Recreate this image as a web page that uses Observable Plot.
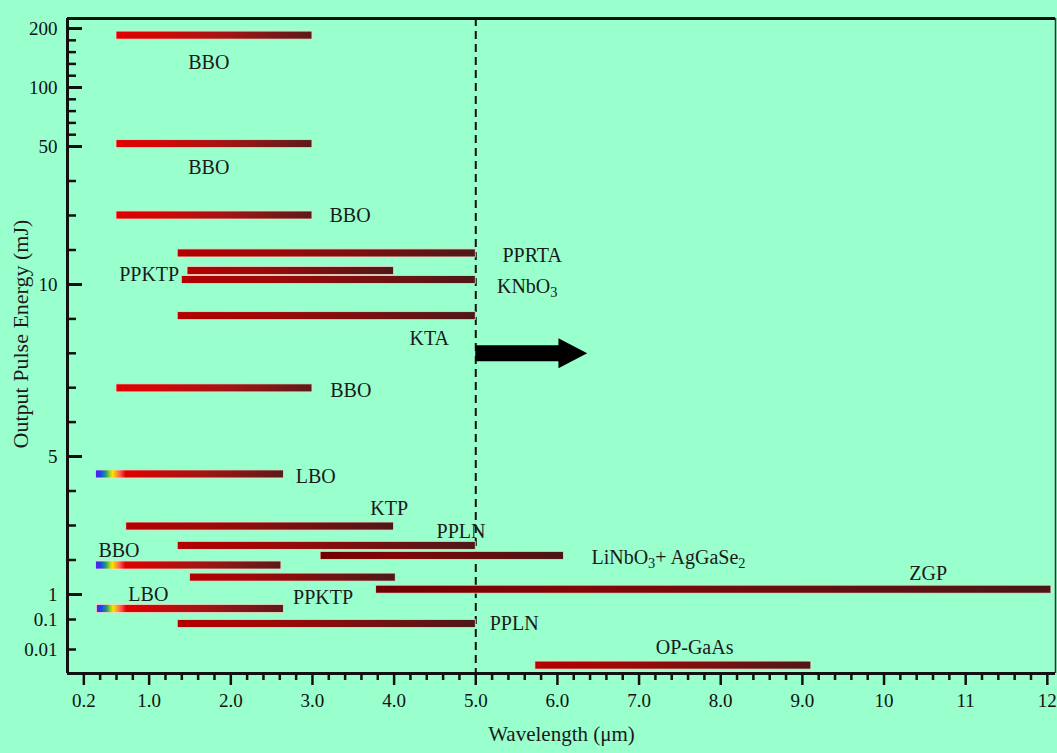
<!DOCTYPE html>
<html><head><meta charset="utf-8">
<script src="https://cdn.jsdelivr.net/npm/d3@7"></script>
<script src="https://cdn.jsdelivr.net/npm/@observablehq/plot@0.6"></script>
<style>html,body{margin:0;padding:0;background:#99ffcc;} svg{display:block}</style>
</head><body><div id="chart"></div>
<script>
// ---- data ----
const crystals = ["BBO","BBO","BBO","PPRTA","PPKTP","KNbO₃","KTA","BBO","LBO","KTP","PPLN","LiNbO₃+ AgGaSe₂","BBO","PPKTP","ZGP","LBO","PPLN","OP-GaAs"];
const startUm  = [0.6, 0.6, 0.6, 1.35, 1.47, 1.4, 1.35, 0.6, 0.35, 0.72, 1.35, 3.1, 0.35, 1.5, 3.78, 0.36, 1.35, 5.73];
const endUm    = [3.0, 3.0, 3.0, 5.0, 4.0, 5.0, 5.0, 3.0, 2.65, 4.0, 5.0, 6.08, 2.62, 4.02, 12.05, 2.65, 5.0, 9.11];
const energyMJ = [188, 52, 30, 19, 13.9, 11.3, 9.08, 6.98, 4.48, 2.97, 2.41, 2.12, 1.84, 1.49, 1.14, 0.48, 0.0865, 0.0033];
const labelUm  = [1.73, 1.73, 3.46, 5.69, 1.0, 5.63, 4.43, 3.47, 3.04, 3.94, 4.82, 7.36, 0.63, 3.13, 10.54, 0.99, 5.47, 7.68];
const labelMJ  = [142, 43.9, 30, 18.3, 12.9, 9.94, 8.43, 6.92, 4.42, 3.49, 2.83, 2.07, 2.28, 0.89, 1.61, 1.0, 0.088, 0.0145];
const arrowUm  = [5.0, 6.05, 6.15];   // shaft start, shaft end, head centre
const arrowMJ  = [8];
const xMajorTicks = [0.2, 1, 2, 3, 4, 5, 6, 7, 8, 9, 10, 11, 12];
const yMajorTicks = [200, 100, 50, 10, 5, 1];
const yLabelTicks = [200, 100, 50, 10, 5, 1, 0.1, 0.01];
const yMinorTicks = [180, 160, 140, 120, 90, 80, 70, 60, 40, 30, 20, 9, 8, 7, 6, 4, 3, 2, 0.1, 0.01];
const xMinorTicks = d3.range(2, 61).filter(i => i % 5 !== 0).map(i => i / 5);
const cutoffUm = [5.0];
const yKnots = [0, 0.01, 0.1, 1, 5, 10, 50, 100, 217];

const bars = crystals.map((name, i) => ({name, start: startUm[i], end: endUm[i], energy: energyMJ[i]}));
const labels = crystals.map((name, i) => ({name, x: labelUm[i], y: labelMJ[i]}));

function kindOf(d) {
  if (d.start < 0.5) return "rainbow";
  if (d.start < 0.65) return "bright";
  if (d.start >= 3 && d.start < 5) return "dark";
  return "mid";
}
const barMark = kind => Plot.rect(bars.filter(d => kindOf(d) === kind), {
  x1: "start", x2: "end", y1: "energy", y2: "energy",
  insetTop: -4, insetBottom: -4,
  fill: `url(#g-${kind})`, stroke: "#f2d8c8", strokeWidth: 0.8
});

const headRight = {draw(c, size) {
  const l = Math.sqrt(size / Math.PI);
  c.moveTo(-l * 0.9, -l * 1.2); c.lineTo(l * 1.4, 0); c.lineTo(-l * 0.9, l * 1.2); c.closePath();
}};

const svg = Plot.plot({
  width: 1057, height: 753,
  marginLeft: 67, marginRight: 2, marginTop: 18, marginBottom: 80,
  style: {background: "#99ffcc", fontFamily: "'Liberation Serif','Times New Roman',serif", fontSize: "19px", color: "#111"},
  x: {domain: [0, 12.1], ticks: xMajorTicks, tickFormat: d => d < 10 ? d.toFixed(1) : String(d), tickSize: 0, tickPadding: 20, label: null},
  y: {type: "linear", domain: yKnots, range: [673, 649, 619, 594, 456, 284, 146, 87, 18],
      ticks: yLabelTicks, tickFormat: d => String(d), tickSize: 0, tickPadding: 10, label: null},
  marks: [
    Plot.ruleX(cutoffUm, {strokeWidth: 2, strokeDasharray: "8,5", stroke: "#111"}),
    barMark("bright"), barMark("mid"), barMark("dark"), barMark("rainbow"),
    Plot.ruleY(arrowMJ, {x1: arrowUm[0], x2: arrowUm[1], strokeWidth: 16, stroke: "black"}),
    Plot.dot(arrowMJ, {x: arrowUm[2], y: d => d, r: 12.5, symbol: headRight, fill: "black", stroke: "none"}),
    Plot.text(labels, {x: "x", y: "y", text: "name", fontSize: 20, fill: "#1a1a1a"}),
    // frame
    Plot.ruleX([0], {strokeWidth: 3, stroke: "#111"}),
    Plot.ruleX([12.1], {strokeWidth: 1.5, stroke: "#333"}),
    Plot.ruleY([0], {strokeWidth: 3, stroke: "#111"}),
    Plot.ruleY([217], {strokeWidth: 3, stroke: "#111"}),
    // inward y ticks
    Plot.ruleY(yMajorTicks, {x1: 0, x2: 0, insetRight: -15, strokeWidth: 3, stroke: "#111"}),
    Plot.ruleY(yMinorTicks, {x1: 0, x2: 0, insetRight: -9, strokeWidth: 2.5, stroke: "#111"}),
    // outward x ticks
    Plot.ruleX(xMajorTicks, {y1: 0, y2: 0, insetBottom: -12, strokeWidth: 2.5, stroke: "#111"}),
    Plot.ruleX(xMinorTicks, {y1: 0, y2: 0, insetBottom: -7, strokeWidth: 2.5, stroke: "#111"}),
    // axis titles
    Plot.text(["Wavelength (μm)"], {frameAnchor: "bottom", textAnchor: "middle", dy: 67, text: d => d, fontSize: 21, fill: "#1a1a1a"}),
    Plot.text(["Output Pulse Energy (mJ)"], {frameAnchor: "left", textAnchor: "middle", dx: -47, dy: -12, rotate: -90, text: d => d, fontSize: 22, fill: "#1a1a1a"})
  ]
});

document.getElementById("chart").appendChild(svg);

// tick labels: anything still rendered small is an axis tick label -> enlarge
d3.select(svg).selectAll("text").each(function() {
  const fs = parseFloat(getComputedStyle(this).fontSize);
  if (fs < 16) d3.select(this).style("font-size", "19px").style("fill", "#1a1a1a");
});

// gradients
const grads = {
  bright: [[0, "#e00000"], [0.2, "#d40606"], [0.55, "#a51414"], [1, "#5c1a1a"]],
  rainbow: [[0, "#5a1ee0"], [0.025, "#1e3cff"], [0.055, "#1e9e6e"], [0.075, "#9bd21e"], [0.09, "#f5e600"], [0.11, "#ffa01e"], [0.13, "#ff5a5a"], [0.16, "#e00000"], [0.55, "#a51414"], [1, "#5c1a1a"]],
  mid: [[0, "#b40000"], [0.3, "#a00808"], [1, "#4e1818"]],
  dark: [[0, "#700000"], [0.3, "#820606"], [1, "#4a1616"]]
};
const defs = d3.select(svg).insert("defs", ":first-child");
for (const [k, stops] of Object.entries(grads)) {
  const g = defs.append("linearGradient").attr("id", `g-${k}`).attr("x1", 0).attr("x2", 1).attr("y1", 0).attr("y2", 0);
  for (const [o, c] of stops) g.append("stop").attr("offset", o).attr("stop-color", c);
}

// subscripts
d3.select(svg).selectAll("text").each(function() {
  const t = this.textContent;
  if (!/[₀-₉]/.test(t)) return;
  const sel = d3.select(this); sel.text(null);
  let shifted = false;
  for (const p of t.match(/[₀-₉]+|[^₀-₉]+/g)) {
    const isSub = /[₀-₉]/.test(p);
    const ts = sel.append("tspan").text(isSub ? p.replace(/[₀-₉]/g, c => String(c.charCodeAt(0) - 0x2080)) : p);
    if (isSub) { ts.attr("dy", "0.3em").attr("font-size", "0.72em"); shifted = true; }
    else if (shifted) { ts.attr("dy", "-0.216em"); shifted = false; }
  }
});
</script>
</body></html>
